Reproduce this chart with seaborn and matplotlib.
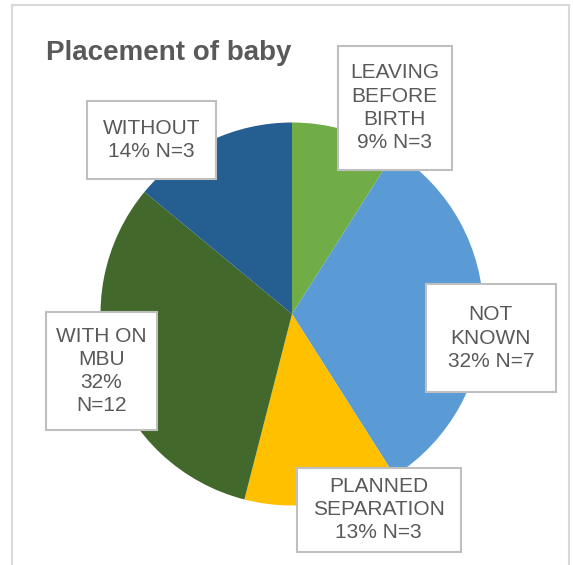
import matplotlib
matplotlib.use("Agg")
import matplotlib.pyplot as plt
from matplotlib.patches import Rectangle
import seaborn as sns

# ---- data ----
categories = ["LEAVING BEFORE BIRTH", "NOT KNOWN", "PLANNED SEPARATION", "WITH ON MBU", "WITHOUT"]
percent = [9, 32, 13, 32, 14]
counts = [3, 7, 3, 12, 3]
label_texts = [
    "LEAVING\nBEFORE\nBIRTH\n9% N=3",
    "NOT\nKNOWN\n32% N=7",
    "PLANNED\nSEPARATION\n13% N=3",
    "WITH ON\nMBU\n32%\nN=12",
    "WITHOUT\n14% N=3",
]
title = "Placement of baby"

# ---- styles / layout ----
slice_colors = ["#70AD47", "#5B9BD5", "#FFC000", "#43682B", "#255E91"]
text_color = "#595959"
W, H = 573, 565
# label boxes in pixels: left, top, right, bottom
boxes = [
    (337.5, 46, 451.5, 169.5),
    (425.5, 284, 556, 392),
    (296.5, 468, 460.5, 551.5),
    (46, 312, 157, 430),
    (87, 101, 216, 179),
]
cx, cy, r = 292, 314, 191.5

sns.set_theme(style="white")
plt.rcParams["font.family"] = ["Liberation Sans", "DejaVu Sans"]

fig = plt.figure(figsize=(W / 100, H / 100), dpi=100)
fig.patch.set_facecolor("white")

def fx(x):
    return x / W

def fy(y):
    return 1 - y / H

# outer chart frame
fig.patches.append(Rectangle((fx(12), fy(570)), fx(569) - fx(12), fy(5) - fy(570),
                             transform=fig.transFigure, fill=False,
                             edgecolor="#D9D9D9", linewidth=1.5, zorder=0))

ax = fig.add_axes([fx(cx - r), fy(cy + r), 2 * r / W, 2 * r / H])
palette = sns.color_palette(slice_colors)
ax.pie(percent, colors=palette, startangle=90, counterclock=False, radius=1,
       wedgeprops=dict(linewidth=0))
ax.set_xlim(-1, 1)
ax.set_ylim(-1, 1)
ax.axis("off")

fig.text(fx(46.5), fy(59.5), title, fontsize=20, fontweight="bold",
         color=text_color, ha="left", va="baseline")

for txt, (l, t, rr, b) in zip(label_texts, boxes):
    fig.patches.append(Rectangle((fx(l), fy(b)), fx(rr) - fx(l), fy(t) - fy(b),
                                 transform=fig.transFigure, facecolor="white",
                                 edgecolor="#BFBFBF", linewidth=1.5, zorder=3))
    fig.text(fx((l + rr) / 2), fy((t + b) / 2), txt, fontsize=15, color=text_color,
             ha="center", va="center", multialignment="center", linespacing=1.28,
             zorder=4)

fig.savefig("out.png", dpi=100, facecolor="white")
